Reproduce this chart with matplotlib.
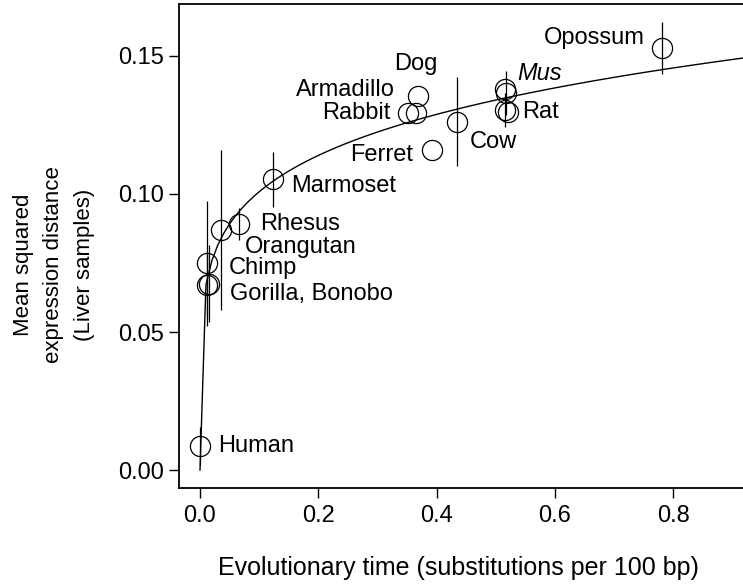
import numpy as np
import matplotlib.pyplot as plt

plt.rcParams['font.family'] = ['Liberation Sans', 'DejaVu Sans']

# species, divergence from human, mean squared distance, error half-width
species = ['Human', 'Chimp', 'Bonobo', 'Gorilla', 'Orangutan', 'Rhesus', 'Marmoset',
           'Rabbit', 'Armadillo', 'Dog', 'Ferret', 'Cow', 'Mus', 'Mus2', 'Rat', 'Rat2', 'Opossum']
evo_time = [0.0, 0.0122, 0.0115, 0.0150, 0.035, 0.0664, 0.1229,
            0.352, 0.366, 0.369, 0.393, 0.434, 0.516, 0.517, 0.515, 0.521, 0.7805]
distance = [0.0087, 0.0749, 0.0669, 0.0675, 0.0870, 0.0891, 0.1053,
            0.1292, 0.1292, 0.1353, 0.1159, 0.1262, 0.1379, 0.1365, 0.1304, 0.1297, 0.1528]
err = [0.0070, 0.0226, 0.0120, 0.0140, 0.0290, 0.0057, 0.0099,
       0.0, 0.0, 0.0, 0.0, 0.0161, 0.0, 0.0080, 0.0060, 0.0, 0.0093]

# power-law fit y = a * t^b
fit_a, fit_b = 0.1515, 0.177

# label placement: (text, index of point, dx, dy in pixels, ha, italic)
labels = [
    ('Human', 0, 18, 0, 'left', False),
    ('Chimp', 1, 22, -5, 'left', False),
    ('Gorilla, Bonobo', 3, 21, -10, 'left', False),
    ('Orangutan', 4, 24, -17, 'left', False),
    ('Rhesus', 5, 21, 0, 'left', False),
    ('Marmoset', 6, 18, -7, 'left', False),
    ('Rabbit', 7, -18, 0, 'right', False),
    ('Armadillo', 8, -22, 23, 'right', False),
    ('Dog', 9, -2, 32, 'center', False),
    ('Ferret', 10, -19, -5, 'right', False),
    ('Cow', 11, 13, -20, 'left', False),
    ('Mus', 12, 12, 16, 'left', True),
    ('Rat', 14, 18, -2, 'left', False),
    ('Opossum', 16, -17, 10, 'right', False),
]

fig = plt.figure(figsize=(7.43, 5.84), dpi=100)
ax = fig.add_axes([179 / 743, 96 / 584, 564 / 743, 484 / 584])

t = np.arange(0, 0.93, 0.01)
ax.plot(t, fit_a * t ** fit_b, color='black', lw=1.0)

ax.errorbar(evo_time, distance, yerr=err, fmt='none', ecolor='black', elinewidth=0.9, capsize=0)
ax.plot(evo_time, distance, 'o', ms=14.5, mfc='none', mec='black', mew=0.9)

for name, i, dx, dy, ha, ital in labels:
    ax.annotate(name, (evo_time[i], distance[i]), xytext=(dx, dy), textcoords='offset pixels',
                ha=ha, va='center', fontsize=17, style='italic' if ital else 'normal')

ax.set_xlim(-0.0355, 0.918)
ax.set_ylim(-0.0065, 0.1688)
ax.set_xticks([0.0, 0.2, 0.4, 0.6, 0.8])
ax.set_xticklabels(['0.0', '0.2', '0.4', '0.6', '0.8'])
ax.set_yticks([0.0, 0.05, 0.10, 0.15])
ax.set_yticklabels(['0.00', '0.05', '0.10', '0.15'])
ax.tick_params(direction='out', length=7, width=1, labelsize=17)
ax.tick_params(axis='x', pad=5)
ax.tick_params(axis='y', pad=4)
ax.spines['right'].set_visible(False)
for s in ['left', 'bottom', 'top']:
    ax.spines[s].set_linewidth(1.3)

fig.text(458 / 743, 1 - 568 / 584, 'Evolutionary time (substitutions per 100 bp)',
         ha='center', va='center', fontsize=18)
fig.text(54 / 743, 1 - 265 / 584, 'Mean squared\nexpression distance\n(Liver samples)',
         ha='center', va='center', rotation=90, fontsize=16, linespacing=1.6)

fig.savefig('out.png', dpi=100)
